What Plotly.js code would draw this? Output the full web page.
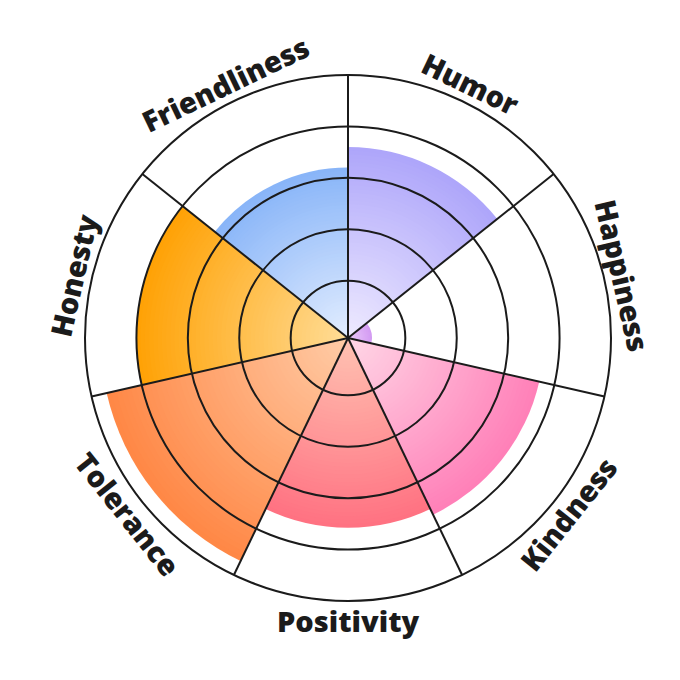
<!DOCTYPE html>
<html>
<head>
<meta charset="utf-8">
<script src="https://cdn.plot.ly/plotly-3.0.1.min.js"></script>
<style>html,body{margin:0;padding:0;background:#fff}#chart{width:680px;height:680px}</style>
</head>
<body>
<div id="chart"></div>
<script>
// ---- data ----
const categories = ['Humor', 'Happiness', 'Kindness', 'Positivity', 'Tolerance', 'Honesty', 'Friendliness'];
const scores = [7.2, 0.7, 7.4, 7.15, 9.4, 8.0, 6.4];
const innerColors = ['#EEEAFF', '#EBC9FA', '#FFD6E6', '#FFC2B2', '#FFCBA6', '#FFDC96', '#E2EDFF'];
const outerColors = ['#AEA6FA', '#D39BF2', '#FF80B8', '#FF7282', '#FF8846', '#FFA206', '#89B5F8'];
const ringValues = [2, 4, 6, 8];
const scaleMin = -0.23;
const scaleMax = 10;

// ---- helpers ----
function hex2rgb(h) { h = h.replace('#', ''); return [0, 2, 4].map(i => parseInt(h.substr(i, 2), 16)); }
function mix(a, b, t) {
  const A = hex2rgb(a), B = hex2rgb(b);
  const c = A.map((v, i) => Math.round(v + (B[i] - v) * t));
  return 'rgb(' + c.join(',') + ')';
}

const sectorWidth = 360 / categories.length;
const traces = [];
const bands = 50;
// radial colour gradient: layered bars, longest first
for (let k = bands; k >= 1; k--) {
  const f = k / bands;
  const t = (k - 1) / (bands - 1);
  traces.push({
    type: 'barpolar', subplot: 'polar',
    theta: categories,
    r: scores.map(v => (v - scaleMin) * f),
    base: scaleMin,
    marker: { color: categories.map((c, i) => mix(innerColors[i], outerColors[i], t)), line: { width: 0 } },
    hoverinfo: 'skip', showlegend: false
  });
}
// overlay subplot for the grid (drawn above the bars)
traces.push({
  type: 'scatterpolar', subplot: 'polar2', r: [scaleMin], theta: [0], mode: 'markers',
  marker: { opacity: 0, size: 1 }, hoverinfo: 'skip', showlegend: false
});

const margin = { l: 85, r: 69, t: 75, b: 79 };
const plotSize = 680 - margin.l - margin.r;
const labelRadius = 282;
const annotations = categories.map((c, i) => {
  let phi = 90 - sectorWidth / 2 - i * sectorWidth;
  while (phi <= -180) phi += 360;
  const rad = phi * Math.PI / 180;
  const ang = phi > 0 ? 90 - phi : -90 - phi;
  return {
    xref: 'paper', yref: 'paper',
    x: 0.5 + labelRadius * Math.cos(rad) / plotSize,
    y: 0.5 + labelRadius * Math.sin(rad) / plotSize,
    text: c, showarrow: false, textangle: ang, xanchor: 'center', yanchor: 'middle',
    font: { family: 'Open Sans', size: 29, color: '#1b1b1b', weight: 800 }
  };
});

const gridColor = '#1b1b1b';
const layout = {
  width: 680, height: 680, margin: margin,
  paper_bgcolor: '#ffffff', showlegend: false,
  polar: {
    domain: { x: [0, 1], y: [0, 1] }, bgcolor: '#ffffff', bargap: 0, barmode: 'overlay', hole: 0,
    radialaxis: { range: [scaleMin, scaleMax], visible: false },
    angularaxis: { type: 'category', categoryarray: categories, rotation: 90 - sectorWidth / 2, direction: 'clockwise', visible: false }
  },
  polar2: {
    domain: { x: [0, 1], y: [0, 1] }, bgcolor: 'rgba(0,0,0,0)', hole: 0,
    radialaxis: { range: [scaleMin, scaleMax], tickmode: 'array', tickvals: ringValues, showticklabels: false, ticks: '',
      showline: false, showgrid: true, gridcolor: gridColor, gridwidth: 2 },
    angularaxis: { type: 'linear', rotation: 90, direction: 'clockwise', tickmode: 'linear', tick0: 0, dtick: sectorWidth,
      showticklabels: false, ticks: '', showgrid: true, gridcolor: gridColor, gridwidth: 2,
      showline: true, linecolor: gridColor, linewidth: 2 }
  },
  annotations: annotations
};

Plotly.newPlot('chart', traces, layout, { staticPlot: true, displayModeBar: false });
</script>
</body>
</html>
